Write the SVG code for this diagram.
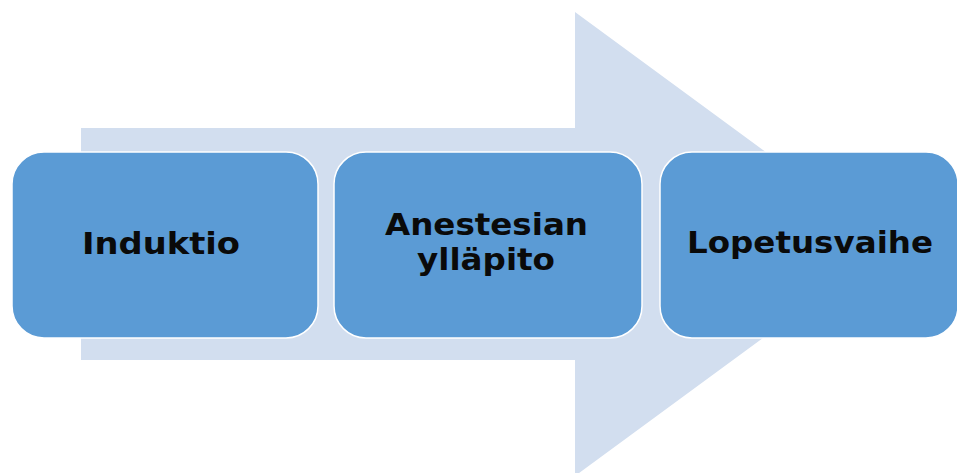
<svg xmlns="http://www.w3.org/2000/svg" width="957" height="473" viewBox="0 0 957 473">
<style>
.box{fill:#5B9BD5;stroke:#FFFFFF;stroke-width:1.5}
.lbl{font-family:"DejaVu Sans","Liberation Sans",sans-serif;font-weight:bold;font-size:31px;fill:#0A0A0A;text-anchor:middle}
</style>
<rect width="957" height="473" fill="#FFFFFF"/>
<g id="connectors">
<polygon id="arrow" points="81,128 575,128 575,12 891,244 575,476 575,360 81,360" fill="#D2DEEF"/>
</g>
<g id="node-induktio">
<rect class="box" x="12" y="152" width="306" height="186" rx="32" ry="32"/>
<text class="lbl" x="161" y="254" textLength="158" lengthAdjust="spacingAndGlyphs">Induktio</text>
</g>
<g id="node-yllapito">
<rect class="box" x="334" y="152" width="308" height="186" rx="32" ry="32"/>
<text class="lbl" x="486.5" y="235" textLength="203" lengthAdjust="spacingAndGlyphs">Anestesian</text>
<text class="lbl" x="486" y="270" textLength="138" lengthAdjust="spacingAndGlyphs">ylläpito</text>
</g>
<g id="node-lopetus">
<rect class="box" x="660" y="152" width="298" height="186" rx="32" ry="32"/>
<text class="lbl" x="810" y="253" textLength="246" lengthAdjust="spacingAndGlyphs">Lopetusvaihe</text>
</g>
</svg>
